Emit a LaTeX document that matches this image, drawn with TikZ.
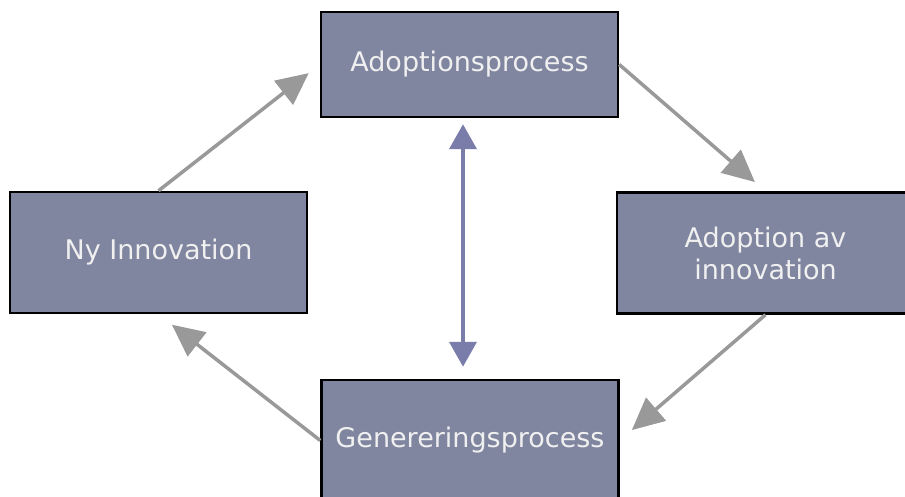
\documentclass[tikz,border=0pt]{standalone}
\usepackage{fontspec}
\setmainfont{DejaVu Sans}
\usetikzlibrary{arrows.meta}
\definecolor{boxfill}{RGB}{128,133,160}
\definecolor{flowgray}{RGB}{153,153,153}
\definecolor{linkblue}{RGB}{122,124,170}
\begin{document}
\begin{tikzpicture}[x=1pt, y=-1pt,
  box/.style = {shape=rectangle, draw=black, line width=2.5pt, fill=boxfill,
    text=white!94!black, align=center, minimum width=297pt, inner sep=0pt,
    font=\fontsize{27}{32}\selectfont},
  flow/.style = {draw=flowgray, line width=3.5pt, -{Triangle[length=32pt,width=30pt]}},
  link/.style = {draw=linkblue, line width=4pt,
    {Triangle[length=25pt,width=27pt]}-{Triangle[length=25pt,width=27pt]}}
  ]
  \clip (0,0) rectangle (905,497);
  \fill[white] (0,0) rectangle (905,497);
  \node[box, minimum height=105pt] (adopt) at (469.5,64.5) {Adoptionsprocess};
  \node[box, minimum height=121pt] (ny) at (158.5,252.5) {Ny Innovation};
  \node[box, minimum height=121pt] (adoptinno) at (765.5,253) {Adoption av\\innovation};
  \node[box, minimum height=121pt] (gen) at (470,440.5) {Genereringsprocess};
  \draw[flow, shorten >=14pt] (ny.north) -- (adopt.west);
  \draw[flow, shorten >=14pt] (adopt.east) -- (adoptinno.north);
  \draw[flow, shorten >=16pt] (adoptinno.south) -- (gen.east);
  \draw[flow, shorten >=17pt] (gen.west) -- (ny.south);
  \draw[link, shorten <=6pt, shorten >=12pt] ([xshift=-6.5pt]adopt.south) -- ([xshift=-7pt]gen.north);
\end{tikzpicture}
\end{document}
